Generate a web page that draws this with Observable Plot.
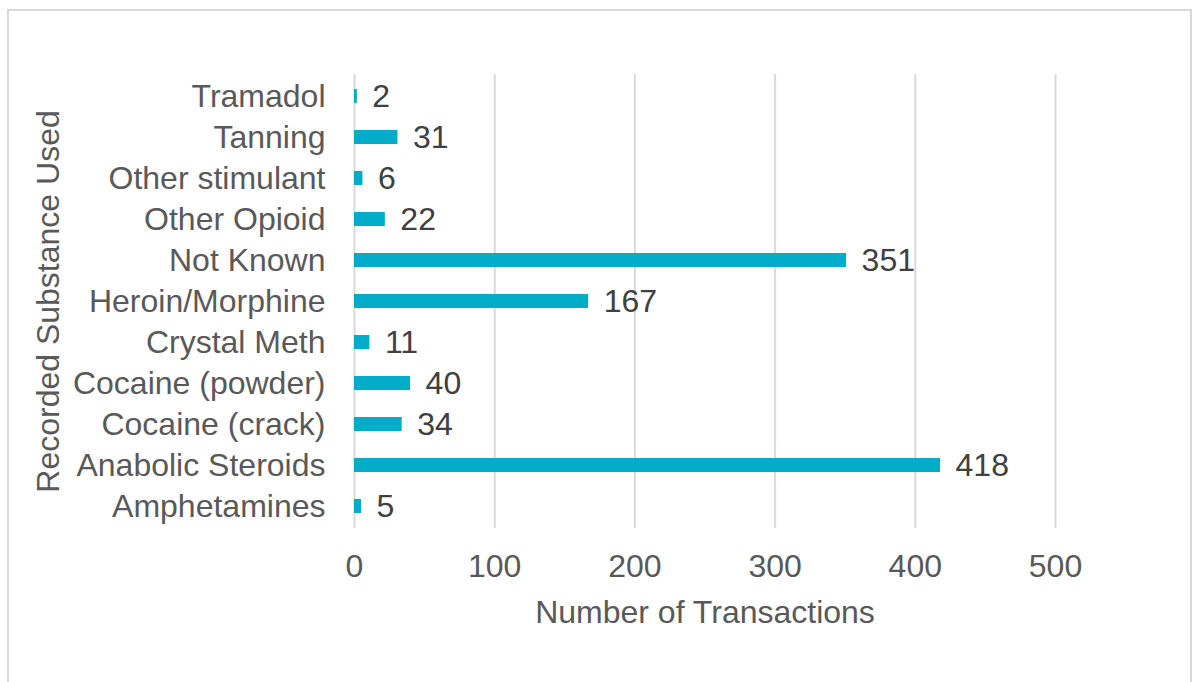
<!DOCTYPE html>
<html>
<head>
<meta charset="utf-8">
<script src="https://cdn.jsdelivr.net/npm/d3@7"></script>
<script src="https://cdn.jsdelivr.net/npm/@observablehq/plot@0.6"></script>
<style>
  html, body { margin: 0; padding: 0; background: #fff; overflow: hidden; }
  #frame { position: absolute; left: 7px; top: 9px; width: 1185px; height: 720px; border: 2px solid #d9d9d9; box-sizing: border-box; }
  #chart { position: absolute; left: 0; top: 0; }
  #chart svg { font-family: "Liberation Sans", Arial, sans-serif; }
</style>
</head>
<body>
<div id="frame"></div>
<div id="chart"></div>
<script>
const categories = ["Tramadol", "Tanning", "Other stimulant", "Other Opioid", "Not Known", "Heroin/Morphine", "Crystal Meth", "Cocaine (powder)", "Cocaine (crack)", "Anabolic Steroids", "Amphetamines"];
const values = [2, 31, 6, 22, 351, 167, 11, 40, 34, 418, 5];
const xTicks = [0, 100, 200, 300, 400, 500];

const data = categories.map((c, i) => ({substance: c, count: values[i]}));

const chart = Plot.plot({
  width: 1194,
  height: 682,
  marginLeft: 354,
  marginRight: 139,
  marginTop: 74,
  marginBottom: 154,
  style: {fontFamily: "'Liberation Sans', Arial, sans-serif", fontSize: "32px", background: "transparent", overflow: "visible"},
  x: {domain: [0, 500], ticks: xTicks},
  y: {domain: categories, paddingInner: 0.65, paddingOuter: 0.325},
  marks: [
    Plot.gridX(xTicks, {stroke: "#d9d9d9", strokeOpacity: 1, strokeWidth: 2}),
    Plot.barX(data, {x: "count", y: "substance", fill: "#00acc8"}),
    Plot.text(data, {x: "count", y: "substance", text: d => String(d.count), textAnchor: "start", dx: 15, fill: "#404040", fontSize: 32}),
    Plot.axisX({ticks: xTicks, tickSize: 0, tickPadding: 26, fill: "#595959", fontSize: 32, label: "Number of Transactions", labelAnchor: "center", labelOffset: 94, labelArrow: "none"}),
    Plot.axisY({tickSize: 0, tickPadding: 29, fill: "#595959", fontSize: 32, label: "Recorded Substance Used", labelAnchor: "center", labelOffset: 318, labelArrow: "none"})
  ]
});
document.getElementById("chart").appendChild(chart);
</script>
</body>
</html>
